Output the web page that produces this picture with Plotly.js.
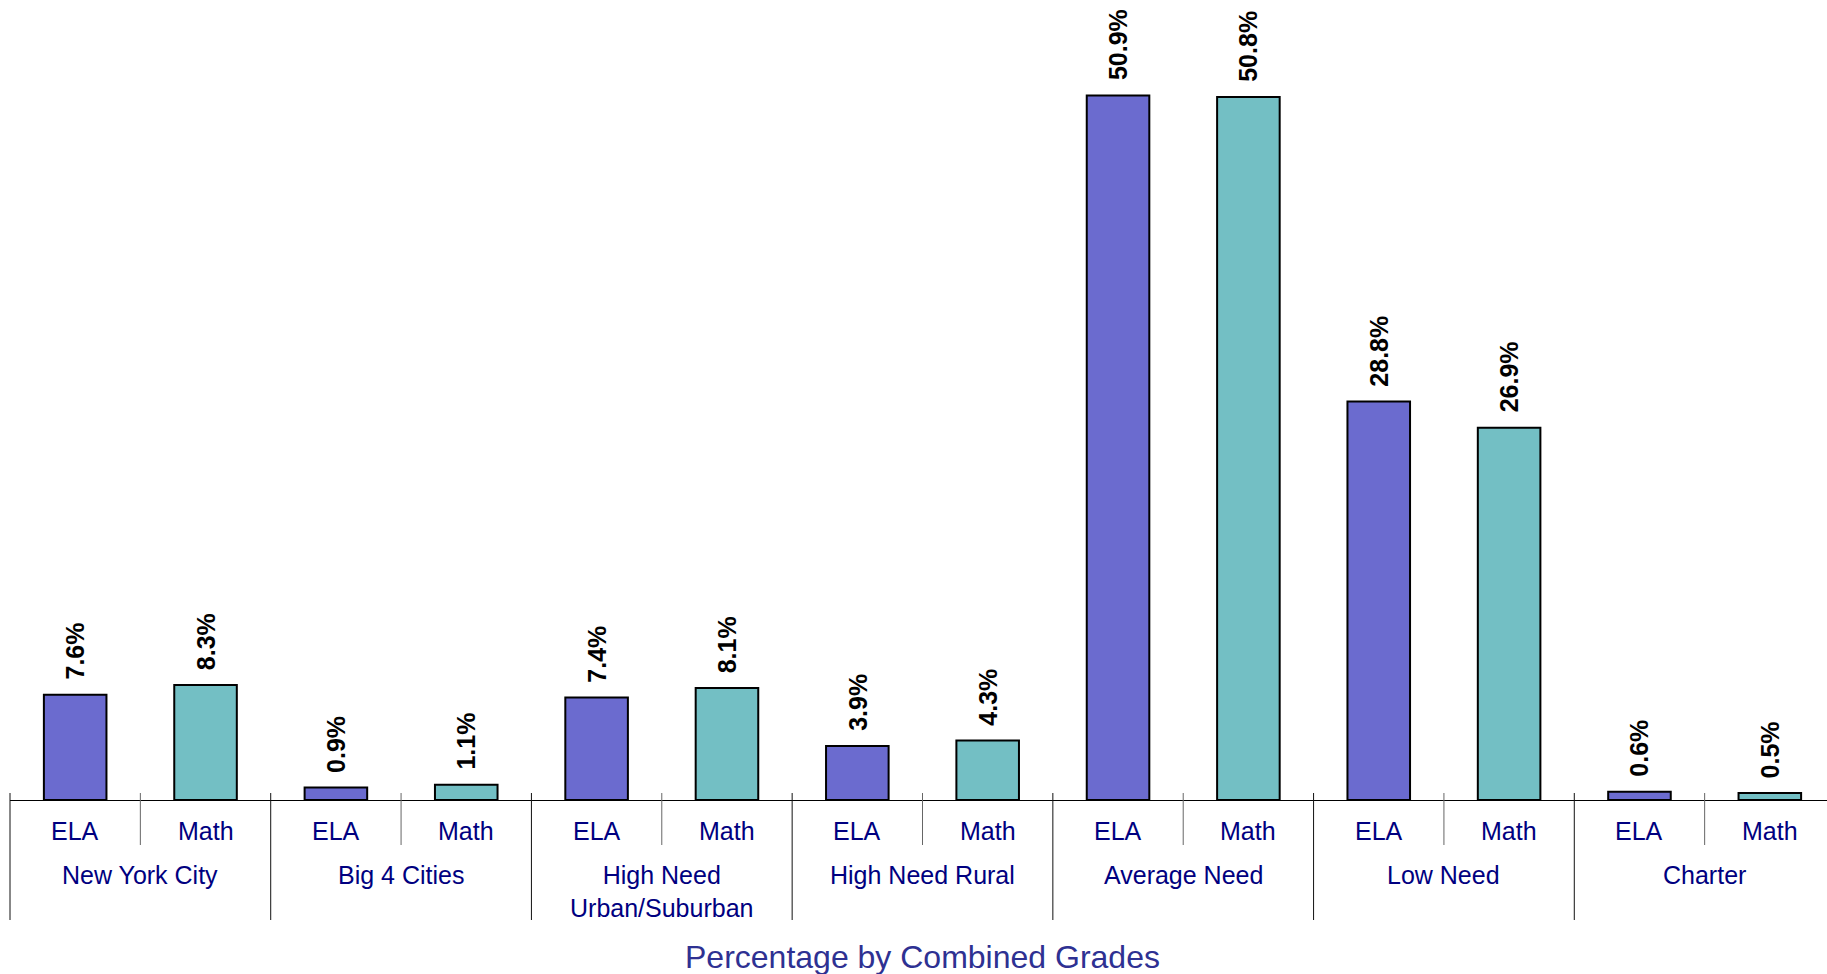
<!DOCTYPE html>
<html>
<head>
<meta charset="utf-8">
<script src="https://cdn.plot.ly/plotly-3.0.1.min.js"></script>
<style>
html, body { margin: 0; padding: 0; overflow: hidden; background: #fff; }
#chart { width: 1845px; height: 974px; }
</style>
</head>
<body>
<div id="chart"></div>
<script>
// ---- data ----
const groups = ["New York City", "Big 4 Cities", "High Need<br>Urban/Suburban", "High Need Rural", "Average Need", "Low Need", "Charter"];
const subjects = ["ELA", "Math"];
const elaValues = [7.6, 0.9, 7.4, 3.9, 50.9, 28.8, 0.6];
const mathValues = [8.3, 1.1, 8.1, 4.3, 50.8, 26.9, 0.5];
const axisTitle = "Percentage by Combined Grades";

// ---- build ----
const labelFont = "Liberation Sans, Arial, sans-serif";
const navy = "#000080";
const nCells = groups.length * subjects.length;

const elaX = groups.map((g, i) => g + "|" + subjects[0]);
const mathX = groups.map((g, i) => g + "|" + subjects[1]);
const allCats = [];
groups.forEach(g => subjects.forEach(s => allCats.push(g + "|" + s)));

const barStyle = (color) => ({ color: color, line: { color: "#000", width: 2 } });

const traces = [
  { type: "bar", name: "ELA", x: elaX, y: elaValues, width: 0.48,
    marker: barStyle("#6b6bcf"), hoverinfo: "x+y" },
  { type: "bar", name: "Math", x: mathX, y: mathValues, width: 0.48,
    marker: barStyle("#73bfc4"), hoverinfo: "x+y" }
];

const annotations = [];
const shapes = [];

// value labels
[[elaX, elaValues], [mathX, mathValues]].forEach(([xs, vs]) => {
  xs.forEach((x, i) => {
    annotations.push({
      x: x, y: vs[i], xref: "x", yref: "y",
      text: vs[i].toFixed(1) + "%", showarrow: false, textangle: -90,
      xanchor: "center", yanchor: "bottom", yshift: 13,
      font: { family: labelFont, size: 25, color: "#000", weight: "bold" }
    });
  });
});

// subject labels
allCats.forEach(c => {
  annotations.push({
    x: c, y: 0, xref: "x", yref: "paper", text: c.split("|")[1],
    showarrow: false, xanchor: "center", yanchor: "middle", yshift: -31,
    font: { family: labelFont, size: 25, color: navy }
  });
});

// group labels
groups.forEach((g, i) => {
  annotations.push({
    x: (2 * i + 1) / nCells, y: 0, xref: "paper", yref: "paper", text: g,
    showarrow: false, xanchor: "center", yanchor: "top", yshift: -59,
    font: { family: labelFont, size: 25, color: navy }
  });
});

// axis title
annotations.push({
  x: 0.5, y: 0, xref: "paper", yref: "paper", text: axisTitle,
  showarrow: false, xanchor: "center", yanchor: "middle", yshift: -157,
  font: { family: labelFont, size: 32, color: "#2e3192" }
});

// dividers (plot height is 800 px)
const plotH = 800;
for (let k = 0; k <= nCells; k++) {
  const isGroup = k % 2 === 0;
  shapes.push({
    type: "line", xref: "paper", yref: "paper",
    x0: k / nCells, x1: k / nCells,
    y0: 7 / plotH, y1: -(isGroup ? 120 : 45) / plotH,
    line: { color: isGroup ? "#111" : "#666", width: 1 }
  });
}

const layout = {
  width: 1845, height: 974,
  margin: { l: 10, r: 10, t: 0, b: 174 },
  paper_bgcolor: "#fff", plot_bgcolor: "#fff",
  showlegend: false,
  barmode: "overlay",
  xaxis: {
    type: "category", categoryorder: "array", categoryarray: allCats,
    range: [-0.5, nCells - 0.5],
    showticklabels: false, ticks: "", showgrid: false, zeroline: false,
    showline: true, linecolor: "#000", linewidth: 1
  },
  yaxis: { range: [0, 57.8], visible: false, showgrid: false, zeroline: false },
  annotations: annotations,
  shapes: shapes
};

Plotly.newPlot("chart", traces, layout, { displayModeBar: false, staticPlot: true });
</script>
</body>
</html>
